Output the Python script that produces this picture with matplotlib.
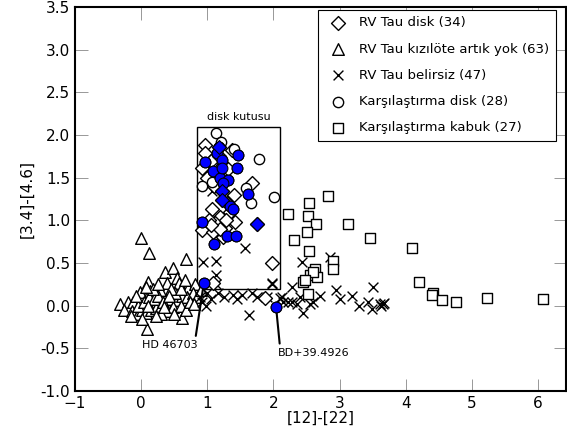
import numpy as np
import matplotlib.pyplot as plt
from matplotlib.patches import Rectangle

# RV Tau disk (diamonds)
disk_x = [0.97, 0.97, 0.92, 1.24, 1.37, 1.68, 1.07, 1.19, 1.12, 1.27, 0.92, 1.42, 1.09, 1.24,
          1.98, 1.09, 1.87, 1.05, 1.15, 1.30, 1.02, 1.20, 1.35, 1.00, 1.10, 1.32, 1.18, 1.05,
          1.22, 1.22, 1.75, 1.18, 1.40, 1.28]
disk_y = [1.89, 1.79, 1.62, 1.65, 1.83, 1.44, 1.13, 1.04, 0.97, 0.91, 0.89, 0.98, 0.86, 0.81,
          0.50, 0.27, 0.09, 1.70, 1.55, 1.20, 1.00, 0.90, 1.10, 1.50, 1.40, 1.60, 1.86, 0.95,
          1.34, 1.24, 0.96, 1.75, 1.30, 1.00]

# RV Tau no IR excess (triangles)
tri_x = [0.00, 0.12, 0.68, 0.36, 0.49, 0.54, 0.11, 0.39, 0.57, 0.71, 0.82, 0.29, 0.14, -0.01,
         -0.32, -0.20, -0.12, -0.25, -0.13, -0.05, 0.02, 0.08, 0.15, 0.22, 0.30, 0.38, 0.45,
         0.55, 0.62, 0.70, 0.78, 0.85, 0.62, 0.09, 0.02, -0.05, 0.05, 0.12, 0.20, 0.26, 0.33,
         0.40, 0.48, 0.52, 0.60, 0.68, 0.74, 0.30, 0.18, 0.07, -0.08, 0.25, 0.45, 0.60, 0.80,
         0.90, 0.35, -0.15, 0.10, 0.50, 0.22, 0.42, 0.66]
tri_y = [0.79, 0.62, 0.55, 0.40, 0.44, 0.33, 0.28, 0.27, 0.27, 0.21, 0.25, 0.19, 0.17, 0.16,
         0.02, 0.05, 0.05, -0.05, -0.06, -0.10, -0.05, -0.08, -0.05, -0.03, 0.00, 0.02, 0.08,
         0.07, 0.12, 0.10, 0.15, 0.10, -0.14, -0.27, -0.15, 0.00, 0.05, 0.10, 0.08, 0.12, 0.05,
         -0.06, -0.02, 0.15, 0.00, -0.05, 0.05, -0.10, 0.20, 0.22, 0.12, 0.25, 0.20, 0.20, 0.02,
         0.18, -0.02, -0.12, 0.00, -0.10, -0.12, 0.12, 0.30]

# RV Tau uncertain (crosses)
unc_x = [1.57, 0.94, 1.13, 1.13, 1.98, 1.07, 1.13, 2.43, 2.85, 2.28, 2.95, 3.19, 3.50, 3.29,
         3.43, 3.49, 3.61, 3.65, 3.67, 2.60, 2.45, 2.40, 2.22, 2.28, 2.10, 1.90, 1.63, 3.63,
         1.39, 1.53, 1.68, 2.13, 1.16, 1.00, 0.89, 0.92, 0.98, 1.05, 1.25, 1.45, 1.75, 2.15,
         2.35, 2.70, 3.00, 1.98, 2.55]
unc_y = [0.68, 0.51, 0.53, 0.36, 0.27, 1.34, 0.25, 0.51, 0.57, 0.22, 0.19, 0.12, 0.22, 0.00,
         0.04, -0.04, 0.02, 0.02, 0.03, 0.04, -0.08, 0.10, 0.04, 0.04, 0.09, 0.10, -0.11, 0.00,
         0.13, 0.13, 0.15, 0.10, 0.15, 0.15, 0.10, 0.05, 0.00, 0.08, 0.10, 0.08, 0.10, 0.05,
         0.02, 0.12, 0.08, 0.26, 0.02]

# comparison disk (circles)
cmp_x = [1.13, 1.21, 1.40, 1.78, 1.07, 0.92, 1.59, 1.66, 2.01,
         1.18, 1.15, 1.47, 0.97, 1.22, 1.09, 1.45, 1.19, 1.31, 1.24, 1.62, 1.34, 1.39, 0.92,
         1.30, 1.44, 1.10, 0.95, 2.04]
cmp_y = [2.02, 1.92, 1.84, 1.72, 1.45, 1.40, 1.38, 1.21, 1.28,
         1.86, 1.79, 1.77, 1.69, 1.71, 1.58, 1.62, 1.50, 1.48, 1.44, 1.31, 1.17, 1.13, 0.98,
         0.82, 0.82, 0.73, 0.27, -0.01]

# highlighted (blue filled) objects
blue_x = [1.18, 1.15, 1.47, 0.97, 1.22, 1.09, 1.45, 1.19, 1.31, 1.24, 1.62, 1.34, 1.39, 0.92,
          1.30, 1.44, 1.10, 0.95, 2.04, 1.22]
blue_y = [1.86, 1.79, 1.77, 1.69, 1.71, 1.58, 1.62, 1.50, 1.48, 1.44, 1.31, 1.17, 1.13, 0.98,
          0.82, 0.82, 0.73, 0.27, -0.01, 1.62]
bdisk_x = [1.18, 1.22, 1.22, 1.75]
bdisk_y = [1.86, 1.34, 1.24, 0.96]

# comparison shell (squares)
shell_x = [2.83, 2.54, 2.22, 2.53, 2.64, 3.13, 2.51, 2.31, 3.46, 4.10, 2.54, 2.90, 2.90, 2.63,
           2.55, 2.66, 2.45, 4.20, 2.52, 4.41, 4.39, 4.55, 4.76, 5.23, 6.07, 2.60, 2.48]
shell_y = [1.29, 1.20, 1.07, 1.05, 0.96, 0.96, 0.87, 0.77, 0.80, 0.68, 0.64, 0.52, 0.43, 0.43,
           0.36, 0.34, 0.28, 0.28, 0.14, 0.15, 0.13, 0.07, 0.05, 0.09, 0.08, 0.40, 0.30]

fig = plt.figure(figsize=(5.67, 4.48), dpi=100)
ax = fig.add_axes([0.132, 0.127, 0.866, 0.857])

ax.scatter(tri_x, tri_y, marker='^', s=70, facecolor='white', edgecolor='black', lw=1,
           label='RV Tau kızılöte artık yok (%d)' % len(tri_x), zorder=2)
ax.scatter(unc_x, unc_y, marker='x', s=50, color='black', lw=1,
           label='RV Tau belirsiz (%d)' % len(unc_x), zorder=3)
ax.scatter(disk_x, disk_y, marker='D', s=50, facecolor='white', edgecolor='black', lw=1,
           label='RV Tau disk (%d)' % len(disk_x), zorder=4)
ax.scatter(cmp_x, cmp_y, marker='o', s=55, facecolor='white', edgecolor='black', lw=1,
           label='Karşılaştırma disk (%d)' % len(cmp_x), zorder=4)
ax.scatter(shell_x, shell_y, marker='s', s=50, facecolor='white', edgecolor='black', lw=1,
           label='Karşılaştırma kabuk (%d)' % len(shell_x), zorder=4)
ax.scatter(blue_x, blue_y, marker='o', s=60, facecolor='blue', edgecolor='black',
           lw=0.8, zorder=5)
ax.scatter(bdisk_x, bdisk_y, marker='D', s=50, facecolor='blue', edgecolor='black',
           lw=0.8, zorder=5)

ax.add_patch(Rectangle((0.85, 0.2), 1.25, 1.9, fill=False, edgecolor='black', lw=1, zorder=1))
ax.text(1.475, 2.15, 'disk kutusu', ha='center', va='bottom', fontsize=8)

ax.annotate('HD 46703', xy=(0.95, 0.27), xytext=(0.44, -0.46), fontsize=8,
            ha='center', va='center',
            arrowprops=dict(arrowstyle='-', color='black', lw=1.5, relpos=(0.95, 1.0),
                            shrinkA=1, shrinkB=4))
ax.annotate('BD+39.4926', xy=(2.04, -0.01), xytext=(2.61, -0.55), fontsize=8,
            ha='center', va='center',
            arrowprops=dict(arrowstyle='-', color='black', lw=1.5, relpos=(0.03, 1.0),
                            shrinkA=1, shrinkB=4))

ax.set_xlim(-1, 6.42)
ax.set_ylim(-1.0, 3.5)
ax.set_xticks(range(-1, 7))
ax.set_yticks(np.arange(-1.0, 3.51, 0.5))
ax.set_yticklabels(['%.1f' % v for v in np.arange(-1.0, 3.51, 0.5)])
ax.tick_params(direction='in', length=9, width=0.6, color='#888888', top=True, right=True,
               labelsize=11)
for sp in ax.spines.values():
    sp.set_linewidth(1.5)
ax.set_xlabel('[12]-[22]', fontsize=11, labelpad=0)
ax.set_ylabel('[3.4]-[4.6]', fontsize=11)

h, l = ax.get_legend_handles_labels()
order = [2, 0, 1, 3, 4]
leg = ax.legend([h[i] for i in order], [l[i] for i in order], loc='upper right',
                fontsize=9.5, scatterpoints=1, fancybox=False, framealpha=1,
                edgecolor='black', borderpad=0.5, labelspacing=1.0, handletextpad=0.6,
                borderaxespad=0.2, bbox_to_anchor=(0.985, 1.0))
leg.get_frame().set_linewidth(0.8)

fig.savefig('out.png', dpi=100)
